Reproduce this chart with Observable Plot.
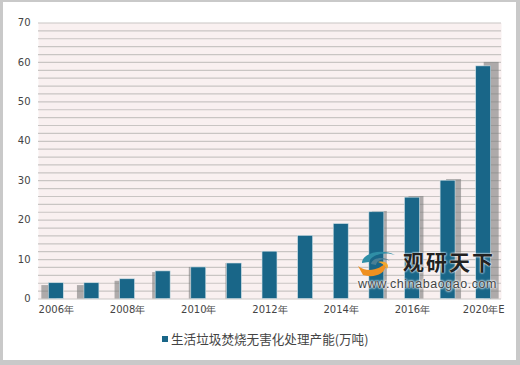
<!DOCTYPE html>
<html><head><meta charset="utf-8">
<script src="https://cdn.jsdelivr.net/npm/d3@7"></script>
<script src="https://cdn.jsdelivr.net/npm/@observablehq/plot@0.6"></script>
<style>
html,body{margin:0;padding:0;background:#c9c9c9;width:520px;height:365px;overflow:hidden}
#card{position:absolute;left:3px;top:2px;width:513px;height:358px;background:#fff;overflow:hidden}
#chart{position:absolute;left:-3px;top:-2px;width:520px}
#legend{position:absolute;left:159px;top:327px;font:12.6px/20px "Noto Sans CJK SC";color:#444;white-space:nowrap;display:flex;align-items:center;gap:3px}
#legend i{display:inline-block;width:6px;height:6px;background:#196688}
#wm{position:absolute;left:358px;top:248px;width:142px;height:44px}
#wm svg{position:absolute;left:0;top:0}
#wm .a{position:absolute;left:45px;top:1px;font:bold 21px/24px "Noto Sans CJK SC";letter-spacing:2px;color:#222;white-space:nowrap;text-shadow:0 0 2px #fff,0 0 2px #fff}
#wm .b{position:absolute;left:0;top:30px;font:12.5px/13px "Liberation Sans";letter-spacing:.55px;color:#444;white-space:nowrap;text-shadow:0 0 2px #fff,0 0 2px #fff,0 0 3px #fff}
</style></head><body>
<div id="card"><div id="chart"></div>
<div id="legend"><i></i><span>生活垃圾焚烧无害化处理产能(万吨)</span></div></div>
<div id="wm">
<svg width="44" height="30"><path d="M4 15C4 5 24 0 37 7C30 4 14 5 11 14Z" fill="#2f8ea6"/><path d="M13 16C14 9 27 8 32 13C25 10 19 12 18 17Z" fill="#4a7f95"/><path d="M0 18C10 26 24 20 27 15C30 24 18 31 5 27Z" fill="#ef9020"/><path d="M20 14C28 12 32 17 29 21C27 17 24 15 20 14Z" fill="#f0a830"/></svg>
<div class="a">观研天下</div><div class="b">www.chinabaogao.com</div></div>
<script>
const years=["2006年","2007年","2008年","2009年","2010年","2011年","2012年","2013年","2014年","2015年","2016年","2017年","2020年E"];
const capacity=[4,4,5,7,8,9,12,16,19,22,25.7,30,59];
const shadowTops=[3.4,3.4,4.5,6.7,8,9,12,16,19,22.2,26,30.3,60];
const shadowShifts=[-7,-7,-5,-3,-2,-1,0,0,0,3,4,6,8];
const shownYears=["2006年","2008年","2010年","2012年","2014年","2016年","2020年E"];
const yTicks=[0,10,20,30,40,50,60,70];
const gridValues=d3.range(0,71,2);
const rows=years.map((year,i)=>({year,value:capacity[i],top:shadowTops[i],shift:shadowShifts[i]}));
const shadows=rows.filter(d=>d.shift!==0).map(d=>Plot.barY([d],{x:"year",y:"top",fill:"#7c7c7c",fillOpacity:.6,dx:d.shift,imageFilter:"blur(0.7px)"}));
const plot=Plot.plot({
  width:520,height:322,marginLeft:38,marginRight:19,marginTop:22.5,marginBottom:23.5,
  style:{background:"transparent",fontFamily:"'DejaVu Sans'",fontSize:"10px",color:"#444"},
  x:{domain:years,paddingInner:0.58,paddingOuter:0.29,round:false,label:null,tickSize:0,tickPadding:7,tickFormat:d=>shownYears.includes(d)?d:""},
  y:{domain:[0,70],label:null,ticks:yTicks,tickSize:0,tickPadding:8},
  marks:[
    Plot.frame({fill:"#f9f0f0",stroke:"none"}),
    Plot.ruleY(gridValues,{stroke:"#c9c5c3",strokeWidth:1.2}),
    ...shadows,
    Plot.barY(rows,{x:"year",y:"value",fill:"#196688",stroke:"#cfe0e6",strokeWidth:.6})
  ]
});
document.getElementById("chart").append(plot);
</script></body></html>
